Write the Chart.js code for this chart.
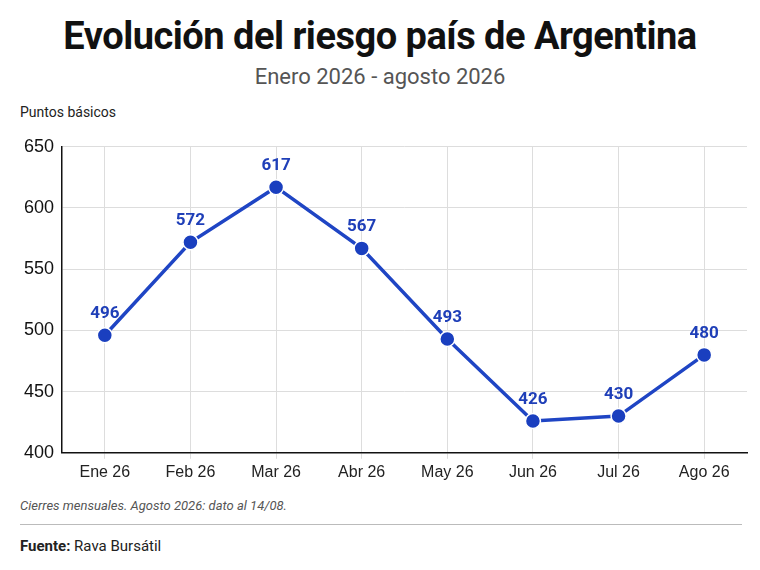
<!DOCTYPE html>
<html><head><meta charset="utf-8">
<script src="https://cdn.jsdelivr.net/npm/chart.js@4"></script>
<style>
body{margin:0;width:760px;height:570px;background:#fff;font-family:Roboto,"Noto Sans",sans-serif;position:relative;overflow:hidden}
#t{position:absolute;top:14px;width:760px;text-align:center;font-family:"Liberation Sans Narrow",Roboto,sans-serif;font-weight:bold;font-size:38px;color:#111;letter-spacing:-0.5px}
#s{position:absolute;top:64px;width:760px;text-align:center;font-size:22px;color:#555}
#u{position:absolute;left:20px;top:104px;font-size:14px;color:#222}
#c{position:absolute;left:10px;top:128px;width:746px;height:358px}
#n{position:absolute;left:20px;top:498px;font-size:13px;font-style:italic;color:#555}
#l{position:absolute;left:20px;top:524px;width:722px;border-top:1px solid #bbb}
#f{position:absolute;left:20px;top:537px;font-size:15px;color:#222}
</style></head><body>
<div id="t">Evolución del riesgo país de Argentina</div>
<div id="s">Enero 2026 - agosto 2026</div>
<div id="u">Puntos básicos</div>
<div id="c"><canvas id="myChart"></canvas></div>
<div id="n">Cierres mensuales. Agosto 2026: dato al 14/08.</div>
<div id="l"></div>
<div id="f"><b>Fuente:</b> Rava Bursátil</div>
<script>
const labels = ['Ene 26', 'Feb 26', 'Mar 26', 'Abr 26', 'May 26', 'Jun 26', 'Jul 26', 'Ago 26'];
const values = [496, 572, 617, 567, 493, 426, 430, 480];
const yTicks = [400, 450, 500, 550, 600, 650];

const valueLabels = {
    id: 'valueLabels',
    afterDatasetsDraw(chart) {
        const c = chart.ctx;
        c.save();
        c.font = 'bold 17px Roboto';
        c.fillStyle = '#1f3fb8';
        c.textAlign = 'center';
        c.textBaseline = 'bottom';
        chart.getDatasetMeta(0).data.forEach((p, i) => {
            c.fillText(values[i], p.x, p.y - 13);
        });
        c.restore();
    }
};

const ctx = document.getElementById('myChart').getContext('2d');
new Chart(ctx, {
    type: 'line',
    data: {
        labels: labels,
        datasets: [{
            data: values,
            borderColor: '#1f45c4',
            borderWidth: 3.5,
            pointBackgroundColor: '#1a3fbf',
            pointBorderColor: '#ffffff',
            pointBorderWidth: 1.5,
            pointRadius: 7.5,
            lineTension: 0,
        }]
    },
    options: {
        responsive: true,
        maintainAspectRatio: false,
        animation: false,
        layout: { padding: { top: 6, right: 0, bottom: 0, left: 0 } },
        plugins: { legend: { display: false }, tooltip: { enabled: false } },
        scales: {
            x: {
                offset: true,
                grid: { offset: false, color: '#ddd', borderDash: [4, 4], tickLength: 6 },
                border: { color: '#111', width: 1.5 },
                ticks: { color: '#222', font: { size: 16, weight: '500' }, padding: 4 }
            },
            y: {
                min: 400, max: 650,
                afterFit(s) { s.width = 52; },
                afterBuildTicks(s) { s.ticks = yTicks.map(v => ({ value: v })); },
                grid: { color: '#ddd', drawTicks: false },
                border: { color: '#111', width: 1.5 },
                ticks: { color: '#111', font: { size: 18 }, padding: 8 }
            }
        }
    },
    plugins: [valueLabels]
});
</script>
</body></html>
